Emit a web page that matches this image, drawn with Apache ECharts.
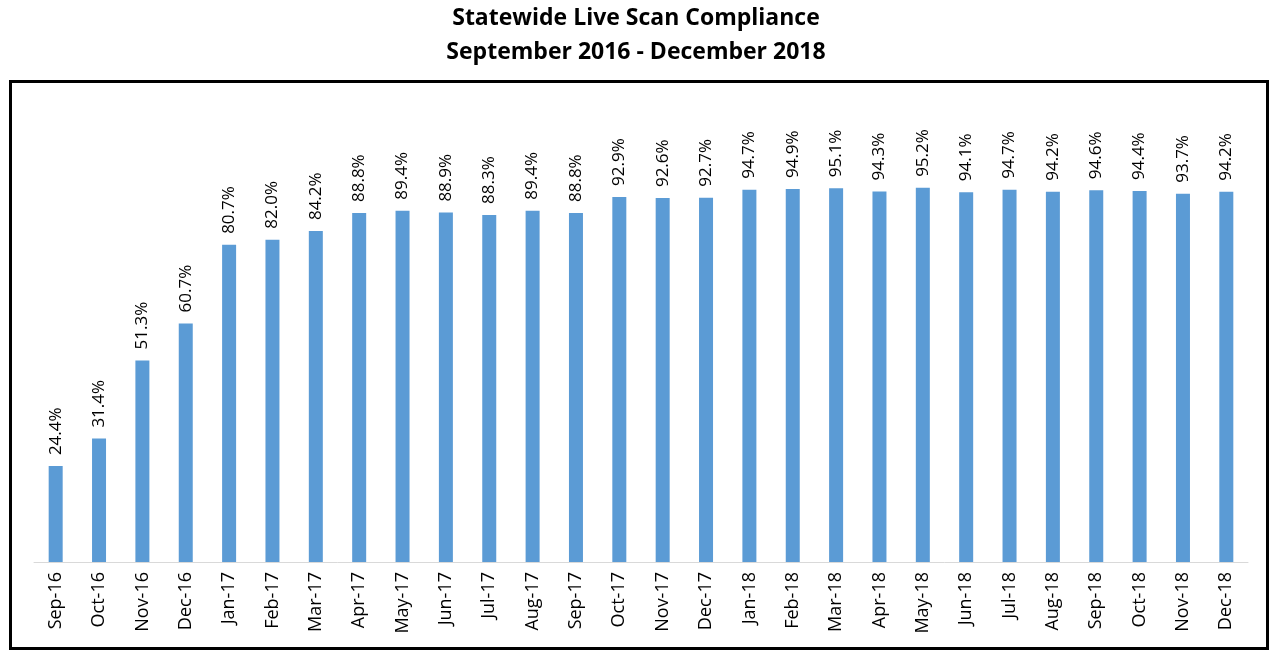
<!DOCTYPE html>
<html>
<head>
<meta charset="utf-8">
<style>
  html, body { margin: 0; padding: 0; background: #fff; }
  #chart { width: 1272px; height: 650px; }
</style>
<script src="https://cdn.jsdelivr.net/npm/echarts@6/dist/echarts.min.js"></script>
</head>
<body>
<div id="chart"></div>
<script>
  // months along the x axis
  const months = ['Sep-16', 'Oct-16', 'Nov-16', 'Dec-16',
    'Jan-17', 'Feb-17', 'Mar-17', 'Apr-17', 'May-17', 'Jun-17', 'Jul-17', 'Aug-17', 'Sep-17', 'Oct-17', 'Nov-17', 'Dec-17',
    'Jan-18', 'Feb-18', 'Mar-18', 'Apr-18', 'May-18', 'Jun-18', 'Jul-18', 'Aug-18', 'Sep-18', 'Oct-18', 'Nov-18', 'Dec-18']
  // compliance, percent
  const compliance = [24.4, 31.4, 51.3, 60.7,
    80.7, 82.0, 84.2, 88.8, 89.4, 88.9, 88.3, 89.4, 88.8, 92.9, 92.6, 92.7,
    94.7, 94.9, 95.1, 94.3, 95.2, 94.1, 94.7, 94.2, 94.6, 94.4, 93.7, 94.2]
  const titleLines = ['Statewide Live Scan Compliance', 'September 2016 - December 2018']

  const font = '"Open Sans", "Noto Sans", sans-serif'
  const myChart = echarts.init(document.getElementById('chart'))
  myChart.setOption({
    backgroundColor: '#fff',
    animation: false,
    title: {
      text: titleLines.join('\n'),
      left: 'center',
      top: 1,
      padding: [0, 5],
      textStyle: { fontFamily: font, fontSize: 23, fontWeight: 'bold', color: '#000', lineHeight: 34 }
    },
    graphic: [{
      type: 'rect',
      shape: { x: 10.5, y: 81.5, width: 1257, height: 567 },
      style: { fill: 'none', stroke: '#000', lineWidth: 3 },
      silent: true
    }],
    grid: { left: 34, right: 24, top: 169, bottom: 88 },
    xAxis: {
      type: 'category',
      data: months,
      axisLine: { lineStyle: { color: '#d9d9d9', width: 1 } },
      axisTick: { length: 6, lineStyle: { color: '#d9d9d9' } },
      axisLabel: { rotate: 90, fontFamily: font, fontSize: 18, color: '#000', margin: 10 }
    },
    yAxis: {
      type: 'value',
      min: 0,
      max: 100,
      show: false,
      splitLine: { show: false }
    },
    series: [{
      type: 'bar',
      data: compliance,
      barWidth: 14,
      itemStyle: { color: '#5b9bd5' },
      label: {
        show: true,
        position: 'top',
        rotate: 90,
        align: 'left',
        verticalAlign: 'middle',
        distance: 11,
        fontFamily: font,
        fontSize: 17,
        color: '#000',
        formatter: p => p.value.toFixed(1) + '%'
      }
    }]
  })
</script>
</body>
</html>
